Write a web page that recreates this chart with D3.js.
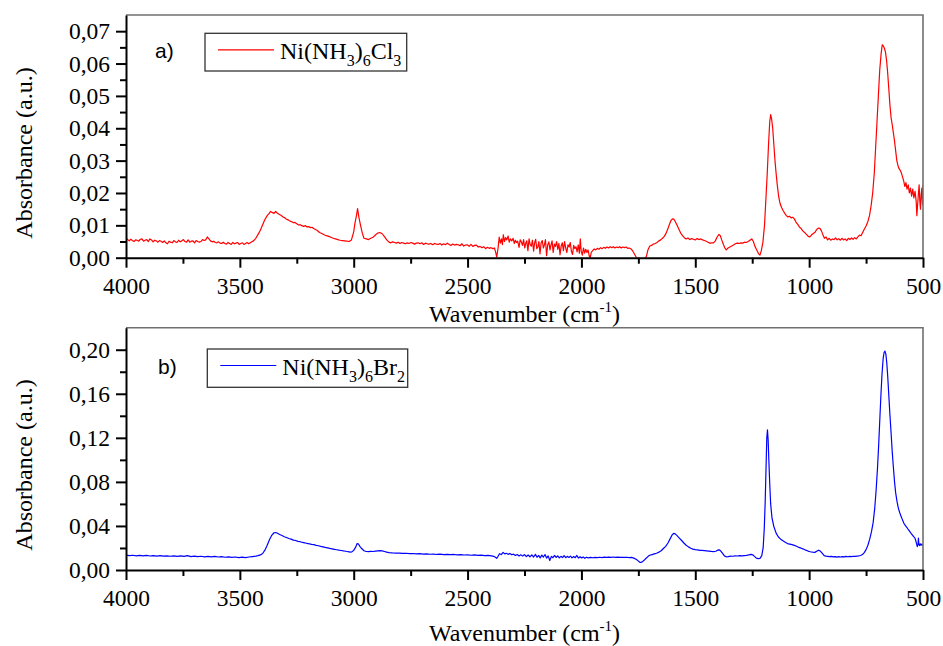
<!DOCTYPE html>
<html>
<head>
<meta charset="utf-8">
<script src="https://cdn.jsdelivr.net/npm/d3@7"></script>
<style>
  html, body { margin: 0; padding: 0; background: #fff; }
  svg { display: block; }
</style>
</head>
<body>
<svg id="chart" width="943" height="646"></svg>
<script>
// ---------------- DATA ----------------
const xMajorTicks = [4000, 3500, 3000, 2500, 2000, 1500, 1000, 500];
const xMinorTicks = [3750, 3250, 2750, 2250, 1750, 1250, 750];
const yMajorTicksA = [0, 0.01, 0.02, 0.03, 0.04, 0.05, 0.06, 0.07];
const yMinorTicksA = [0.005, 0.015, 0.025, 0.035, 0.045, 0.055, 0.065];
const yMajorTicksB = [0, 0.04, 0.08, 0.12, 0.16, 0.20];
const yMinorTicksB = [0.02, 0.06, 0.10, 0.14, 0.18];
const panelLabels = ["a)", "b)"];
const seriesNames = [["Ni(NH", "3", ")", "6", "Cl", "3"], ["Ni(NH", "3", ")", "6", "Br", "2"]];

// Ni(NH3)6Cl3 spectrum: [wavenumber, absorbance]
const spectrumCl = [
[4000,.0061],[3993,.0056],[3986,.0052],[3979,.0057],[3972,.0053],[3965,.0050],[3958,.0055],[3951,.0054],[3944,.0051],[3937,.0057],[3930,.0058],[3923,.0051],[3916,.0054],[3909,.0056],[3902,.0050],[3895,.0058],[3888,.0055],[3881,.0049],[3874,.0054],[3867,.0052],[3860,.0048],[3853,.0053],[3846,.0051],[3839,.0047],[3832,.0052],[3825,.0046],[3818,.0043],[3811,.0051],[3804,.0048],[3797,.0046],[3790,.0053],[3783,.0049],[3776,.0047],[3769,.0054],[3762,.0049],[3755,.0052],[3748,.0056],[3741,.0050],[3734,.0048],[3727,.0055],[3720,.0048],[3713,.0051],[3706,.0052],[3699,.0046],[3692,.0053],[3685,.0050],[3678,.0048],[3671,.0050],[3664,.0056],[3657,.0053],[3650,.0055],[3643,.0064],[3636,.0058],[3629,.0052],[3622,.0049],[3615,.0051],[3608,.0047],[3601,.0046],[3594,.0049],[3587,.0045],[3580,.0044],[3573,.0048],[3566,.0044],[3559,.0042],[3552,.0047],[3545,.0044],[3538,.0041],[3531,.0047],[3524,.0043],[3517,.0045],[3510,.0047],[3503,.0041],[3496,.0044],[3489,.0046],[3482,.0041],[3475,.0044],[3468,.0047],[3461,.0043],[3454,.0046],[3447,.0049],[3440,.0052],[3430,.0060],[3420,.0072],[3410,.0085],[3400,.0102],[3390,.0118],[3380,.0130],[3372,.0136],[3365,.0143],[3358,.0140],[3350,.0137],[3343,.0143],[3336,.0138],[3328,.0134],[3320,.0131],[3310,.0126],[3302,.0123],[3295,.0119],[3288,.0117],[3280,.0113],[3272,.0111],[3265,.0108],[3258,.0109],[3250,.0105],[3242,.0101],[3235,.0102],[3228,.0099],[3220,.0097],[3212,.0099],[3205,.0095],[3198,.0096],[3190,.0093],[3183,.0094],[3176,.0090],[3168,.0087],[3160,.0084],[3150,.0078],[3140,.0075],[3130,.0071],[3120,.0068],[3110,.0066],[3100,.0063],[3090,.0060],[3080,.0058],[3070,.0056],[3060,.0054],[3050,.0053],[3040,.0052],[3030,.0051],[3020,.0050],[3010,.0055],[3000,.0080],[2995,.0105],[2988,.0130],[2983,.0152],[2978,.0128],[2970,.0100],[2962,.0075],[2955,.0060],[2945,.0058],[2935,.0056],[2925,.0060],[2915,.0063],[2905,.0070],[2895,.0076],[2885,.0078],[2875,.0074],[2865,.0065],[2855,.0055],[2845,.0048],[2837,.0046],[2829,.0049],[2821,.0047],[2813,.0045],[2805,.0048],[2797,.0044],[2789,.0047],[2781,.0045],[2773,.0043],[2765,.0046],[2757,.0044],[2749,.0047],[2741,.0045],[2733,.0042],[2725,.0045],[2717,.0046],[2709,.0043],[2701,.0046],[2693,.0041],[2685,.0045],[2677,.0043],[2669,.0042],[2661,.0044],[2653,.0040],[2645,.0044],[2637,.0042],[2629,.0041],[2621,.0044],[2613,.0039],[2605,.0043],[2597,.0040],[2589,.0045],[2581,.0041],[2573,.0038],[2565,.0042],[2557,.0039],[2549,.0041],[2541,.0040],[2533,.0037],[2525,.0043],[2517,.0036],[2509,.0039],[2501,.0040],[2493,.0035],[2485,.0041],[2477,.0035],[2469,.0038],[2461,.0039],[2453,.0033],[2445,.0035],[2437,.0031],[2429,.0034],[2421,.0028],[2413,.0032],[2405,.0029],[2397,.0031],[2389,.0028],[2382,.0030],[2377,.0018],[2372,.0002],[2366,.0030],[2361,.0064],[2356,.0045],[2351,.0058],[2347,.0040],[2343,.0071],[2338,.0050],[2333,.0062],[2328,.0055],[2322,.0067],[2317,.0048],[2312,.0058],[2306,.0052],[2300,.0060],[2295,.0044],[2290,.0054],[2285,.0047],[2280,.0051],[2274,.0032],[2269,.0055],[2264,.0049],[2259,.0038],[2254,.0056],[2249,.0030],[2244,.0046],[2240,.0052],[2235,.0022],[2230,.0058],[2225,.0040],[2220,.0036],[2215,.0054],[2210,.0020],[2206,.0044],[2201,.0057],[2196,.0028],[2191,.0034],[2187,.0050],[2182,.0012],[2177,.0046],[2172,.0053],[2167,.0030],[2162,.0041],[2158,.0056],[2153,.0006],[2148,.0040],[2143,.0049],[2138,.0024],[2134,.0038],[2129,.0052],[2124,.0016],[2119,.0042],[2114,.0035],[2109,.0050],[2104,.0026],[2099,.0044],[2094,.0009],[2089,.0036],[2084,.0046],[2079,.0022],[2074,.0050],[2069,.0030],[2064,.0016],[2059,.0040],[2054,.0033],[2049,.0047],[2044,.0020],[2039,.0010],[2034,.0038],[2029,.0028],[2024,.0034],[2019,.0018],[2014,.0040],[2009,.0014],[2005,.0058],[2001,.0020],[1996,.0008],[1991,.0030],[1986,.0014],[1981,.0026],[1976,.0016],[1971,.0024],[1966,.0006],[1962,-.0002],[1957,.0016],[1951,.0022],[1944,.0027],[1937,.0024],[1930,.0029],[1923,.0026],[1916,.0031],[1909,.0028],[1902,.0032],[1895,.0029],[1888,.0033],[1881,.0030],[1874,.0034],[1867,.0031],[1860,.0034],[1853,.0030],[1846,.0033],[1839,.0031],[1832,.0034],[1825,.0030],[1818,.0033],[1811,.0031],[1804,.0033],[1797,.0029],[1790,.0030],[1782,.0027],[1774,.0020],[1766,.0010],[1760,.0002],[1755,-.0008],[1745,-.0012],[1735,-.0010],[1725,-.0004],[1715,.0003],[1708,.0024],[1700,.0036],[1692,.0038],[1684,.0042],[1676,.0044],[1668,.0047],[1660,.0052],[1652,.0055],[1644,.0060],[1636,.0066],[1628,.0076],[1620,.0090],[1613,.0104],[1606,.0116],[1600,.0120],[1594,.0119],[1588,.0112],[1580,.0100],[1572,.0088],[1564,.0076],[1556,.0068],[1548,.0062],[1540,.0058],[1532,.0061],[1524,.0056],[1516,.0059],[1508,.0057],[1500,.0055],[1492,.0059],[1484,.0056],[1476,.0058],[1468,.0055],[1460,.0053],[1452,.0051],[1444,.0048],[1436,.0045],[1428,.0046],[1420,.0046],[1412,.0052],[1404,.0064],[1396,.0072],[1390,.0068],[1384,.0055],[1376,.0040],[1370,.0030],[1364,.0024],[1356,.0030],[1348,.0033],[1340,.0036],[1332,.0039],[1324,.0043],[1316,.0045],[1308,.0044],[1300,.0046],[1292,.0045],[1284,.0048],[1276,.0047],[1268,.0050],[1260,.0054],[1252,.0058],[1245,.0050],[1238,.0035],[1230,.0024],[1222,.0012],[1216,.0008],[1210,.0022],[1203,.0048],[1196,.0100],[1190,.0180],[1184,.0260],[1178,.0355],[1173,.0420],[1169,.0442],[1165,.0430],[1160,.0400],[1155,.0350],[1150,.0300],[1145,.0260],[1140,.0225],[1134,.0190],[1128,.0168],[1121,.0155],[1114,.0145],[1107,.0137],[1100,.0130],[1093,.0126],[1086,.0128],[1079,.0123],[1072,.0125],[1065,.0120],[1058,.0110],[1050,.0103],[1042,.0094],[1035,.0090],[1028,.0083],[1020,.0078],[1012,.0072],[1004,.0066],[997,.0064],[990,.0070],[982,.0075],[974,.0079],[966,.0088],[958,.0092],[952,.0090],[946,.0083],[940,.0072],[933,.0060],[926,.0064],[919,.0055],[912,.0060],[905,.0054],[898,.0058],[891,.0056],[884,.0061],[877,.0055],[870,.0059],[863,.0054],[856,.0060],[849,.0055],[842,.0058],[835,.0053],[828,.0060],[821,.0056],[814,.0061],[807,.0057],[800,.0062],[793,.0058],[786,.0064],[779,.0070],[772,.0068],[765,.0078],[758,.0088],[750,.0098],[742,.0112],[735,.0130],[728,.0160],[721,.0200],[714,.0260],[708,.0340],[702,.0420],[696,.0500],[690,.0580],[684,.0630],[679,.0658],[675,.0655],[670,.0648],[665,.0636],[660,.0610],[655,.0570],[650,.0520],[645,.0470],[640,.0432],[635,.0410],[630,.0385],[625,.0360],[620,.0330],[615,.0300],[610,.0285],[605,.0275],[600,.0270],[595,.0262],[590,.0250],[585,.0238],[580,.0220],[575,.0232],[570,.0212],[565,.0225],[560,.0200],[555,.0215],[550,.0190],[545,.0212],[540,.0185],[535,.0205],[530,.0175],[527,.0130],[524,.0160],[520,.0200],[517,.0225],[514,.0175],[511,.0150],[508,.0195],[505,.0215],[502,.0165],[500,.0225]
];

// Ni(NH3)6Br2 spectrum: [wavenumber, absorbance]
const spectrumBr = [
[4000,.0136],[3985,.0131],[3970,.0134],[3955,.0129],[3940,.0133],[3925,.0128],[3910,.0132],[3895,.0127],[3880,.0131],[3865,.0126],[3850,.0130],[3835,.0126],[3820,.0129],[3805,.0125],[3790,.0129],[3775,.0124],[3760,.0128],[3745,.0123],[3730,.0131],[3715,.0122],[3700,.0126],[3685,.0121],[3670,.0125],[3655,.0120],[3640,.0124],[3625,.0119],[3610,.0123],[3595,.0118],[3580,.0121],[3565,.0116],[3550,.0120],[3535,.0115],[3520,.0118],[3505,.0112],[3490,.0117],[3475,.0113],[3460,.0118],[3445,.0122],[3430,.0126],[3420,.0130],[3410,.0137],[3400,.0150],[3390,.0180],[3380,.0225],[3370,.0275],[3360,.0315],[3350,.0338],[3342,.0340],[3335,.0333],[3325,.0322],[3315,.0313],[3305,.0302],[3295,.0295],[3285,.0286],[3275,.0280],[3265,.0271],[3255,.0268],[3245,.0260],[3235,.0257],[3225,.0250],[3215,.0247],[3205,.0241],[3195,.0238],[3185,.0233],[3175,.0230],[3165,.0224],[3155,.0220],[3145,.0214],[3135,.0210],[3125,.0205],[3115,.0201],[3105,.0196],[3095,.0192],[3085,.0188],[3075,.0184],[3065,.0180],[3055,.0177],[3045,.0173],[3035,.0170],[3025,.0166],[3015,.0163],[3008,.0165],[3000,.0178],[2992,.0205],[2985,.0240],[2980,.0238],[2973,.0215],[2965,.0195],[2955,.0175],[2945,.0168],[2935,.0167],[2925,.0169],[2915,.0168],[2905,.0171],[2895,.0174],[2885,.0176],[2875,.0173],[2865,.0168],[2855,.0162],[2845,.0158],[2830,.0155],[2815,.0153],[2800,.0154],[2785,.0151],[2770,.0152],[2755,.0149],[2740,.0150],[2725,.0147],[2710,.0149],[2695,.0145],[2680,.0147],[2665,.0143],[2650,.0145],[2635,.0141],[2620,.0144],[2605,.0140],[2590,.0142],[2575,.0139],[2560,.0141],[2545,.0137],[2530,.0140],[2515,.0136],[2500,.0138],[2485,.0134],[2470,.0137],[2455,.0132],[2440,.0135],[2425,.0130],[2410,.0133],[2395,.0128],[2385,.0124],[2378,.0115],[2372,.0106],[2366,.0125],[2360,.0148],[2352,.0140],[2344,.0160],[2337,.0146],[2330,.0152],[2322,.0142],[2314,.0150],[2306,.0138],[2298,.0144],[2290,.0132],[2282,.0140],[2274,.0128],[2266,.0138],[2258,.0126],[2250,.0140],[2242,.0122],[2234,.0136],[2226,.0120],[2218,.0138],[2210,.0118],[2202,.0142],[2195,.0115],[2188,.0133],[2181,.0110],[2174,.0136],[2167,.0118],[2160,.0140],[2153,.0108],[2146,.0128],[2139,.0086],[2132,.0124],[2125,.0112],[2118,.0132],[2111,.0114],[2104,.0128],[2097,.0110],[2090,.0124],[2083,.0113],[2076,.0130],[2069,.0112],[2062,.0124],[2055,.0114],[2048,.0126],[2041,.0110],[2034,.0122],[2027,.0112],[2020,.0132],[2013,.0108],[2006,.0120],[1999,.0110],[1992,.0118],[1985,.0106],[1978,.0116],[1970,.0110],[1960,.0114],[1950,.0111],[1940,.0115],[1930,.0112],[1920,.0116],[1910,.0113],[1900,.0117],[1890,.0114],[1880,.0117],[1870,.0115],[1860,.0118],[1850,.0115],[1840,.0117],[1830,.0114],[1820,.0116],[1810,.0114],[1800,.0116],[1790,.0113],[1780,.0114],[1770,.0108],[1760,.0098],[1752,.0085],[1745,.0072],[1740,.0068],[1733,.0074],[1725,.0088],[1717,.0104],[1708,.0122],[1700,.0134],[1690,.0140],[1680,.0146],[1670,.0152],[1660,.0162],[1650,.0175],[1640,.0195],[1630,.0215],[1620,.0245],[1610,.0285],[1602,.0318],[1595,.0333],[1588,.0328],[1580,.0312],[1570,.0290],[1560,.0268],[1550,.0245],[1540,.0225],[1530,.0210],[1520,.0198],[1510,.0190],[1500,.0185],[1490,.0182],[1480,.0179],[1470,.0178],[1460,.0176],[1450,.0174],[1440,.0172],[1430,.0169],[1420,.0167],[1410,.0170],[1402,.0180],[1395,.0183],[1388,.0172],[1380,.0150],[1372,.0128],[1364,.0120],[1355,.0122],[1345,.0126],[1335,.0125],[1325,.0128],[1315,.0127],[1305,.0130],[1295,.0128],[1285,.0131],[1275,.0133],[1265,.0137],[1255,.0142],[1248,.0138],[1240,.0124],[1232,.0108],[1224,.0104],[1216,.0106],[1208,.0130],[1202,.0200],[1197,.0380],[1193,.0620],[1189,.0950],[1186,.1200],[1183,.1273],[1180,.1180],[1177,.1000],[1173,.0780],[1169,.0600],[1163,.0470],[1155,.0395],[1145,.0335],[1135,.0300],[1125,.0280],[1115,.0265],[1105,.0252],[1095,.0240],[1085,.0235],[1075,.0230],[1065,.0224],[1055,.0215],[1045,.0205],[1035,.0198],[1025,.0190],[1015,.0180],[1005,.0172],[995,.0166],[985,.0162],[975,.0160],[965,.0172],[958,.0180],[950,.0170],[942,.0150],[934,.0130],[926,.0126],[918,.0124],[910,.0121],[902,.0124],[894,.0119],[886,.0122],[878,.0117],[870,.0121],[862,.0118],[854,.0122],[846,.0119],[838,.0123],[830,.0120],[822,.0124],[814,.0121],[806,.0125],[798,.0124],[790,.0126],[782,.0128],[774,.0132],[766,.0140],[758,.0158],[750,.0185],[742,.0225],[734,.0280],[726,.0350],[719,.0430],[712,.0560],[706,.0720],[700,.0920],[695,.1120],[690,.1350],[685,.1580],[680,.1780],[675,.1920],[671,.1975],[667,.1988],[663,.1960],[659,.1880],[655,.1760],[650,.1580],[645,.1400],[640,.1240],[635,.1070],[630,.0930],[625,.0800],[620,.0700],[614,.0620],[608,.0560],[602,.0520],[596,.0485],[590,.0455],[584,.0425],[578,.0405],[572,.0390],[566,.0372],[560,.0355],[554,.0338],[548,.0322],[542,.0305],[536,.0292],[532,.0270],[528,.0235],[525,.0212],[522,.0228],[520,.0290],[518,.0232],[515,.0222],[512,.0238],[509,.0226],[506,.0234],[503,.0225],[500,.0232]
];

// ---------------- DRAW ----------------
const svg = d3.select("#chart");
const SERIF = "'Liberation Serif', 'Times New Roman', serif";
const SANS = "'Liberation Sans', Arial, sans-serif";
const fmtComma = d => d3.format(".2f")(d).replace(".", ",");

const left = 126, right = 923;
const panels = [
  { top: 15, bottom: 257.7, ymax: 0.075, yMajor: yMajorTicksA, yMinor: yMinorTicksA, data: spectrumCl, color: "#ff0000",
    titleY: 153, xTitleBase: 322, label: panelLabels[0], labelPos: [155, 58], legend: { x: 205, y: 33.3, w: 201.7, h: 37.7 }, name: seriesNames[0] },
  { top: 327.7, bottom: 570, ymax: 0.22, yMajor: yMajorTicksB, yMinor: yMinorTicksB, data: spectrumBr, color: "#0000ff",
    titleY: 465, xTitleBase: 641, label: panelLabels[1], labelPos: [158, 374], legend: { x: 207.3, y: 349, w: 200.4, h: 38.3 }, name: seriesNames[1] }
];

const x = d3.scaleLinear().domain([4000, 500]).range([left, right]);

panels.forEach((p, i) => {
  const y = d3.scaleLinear().domain([0, p.ymax]).range([p.bottom, p.top]);
  const g = svg.append("g");

  const clipId = "clip" + i;
  svg.append("clipPath").attr("id", clipId)
    .append("rect").attr("x", left).attr("y", p.top).attr("width", right - left).attr("height", p.bottom - p.top);

  // spectrum
  const line = d3.line().x(d => x(d[0])).y(d => y(d[1]));
  g.append("path").datum(p.data)
    .attr("clip-path", `url(#${clipId})`)
    .attr("fill", "none").attr("stroke", p.color).attr("stroke-width", 1.2)
    .attr("stroke-linejoin", "round")
    .attr("d", line);

  // frame top & right
  g.append("path")
    .attr("d", `M${left},${p.top}H${right}V${p.bottom}`)
    .attr("fill", "none").attr("stroke", "#707070").attr("stroke-width", 1.6);

  // x axis
  const xAxisG = g.append("g").attr("transform", `translate(0,${p.bottom})`);
  xAxisG.append("g").call(d3.axisBottom(x).tickValues(xMinorTicks).tickSize(6).tickSizeOuter(0).tickFormat(""))
    .call(s => s.select(".domain").remove());
  const xMaj = xAxisG.append("g").call(d3.axisBottom(x).tickValues(xMajorTicks).tickSize(10).tickSizeOuter(0).tickFormat(d3.format("d")));
  xMaj.attr("font-family", SERIF).attr("font-size", 23.5);
  xAxisG.selectAll("line").attr("stroke", "#000").attr("stroke-width", 2);
  xMaj.select(".domain").attr("stroke", "#000").attr("stroke-width", 2);
  xMaj.selectAll("text").attr("dy", null).attr("y", 36)
    .style("font-family", SERIF).style("font-size", "23.5px").attr("fill", "#000");

  // y axis
  const yAxisG = g.append("g").attr("transform", `translate(${left},0)`);
  yAxisG.append("g").call(d3.axisLeft(y).tickValues(p.yMinor).tickSize(6).tickSizeOuter(0).tickFormat(""))
    .call(s => s.select(".domain").remove());
  const yMaj = yAxisG.append("g").call(d3.axisLeft(y).tickValues(p.yMajor).tickSize(10).tickSizeOuter(0).tickFormat(fmtComma));
  yMaj.attr("font-family", SERIF).attr("font-size", 23.5);
  yAxisG.selectAll("line").attr("stroke", "#000").attr("stroke-width", 2);
  yMaj.select(".domain").attr("stroke", "#000").attr("stroke-width", 2);
  yMaj.selectAll("text").attr("x", -16)
    .style("font-family", SERIF).style("font-size", "23.5px").attr("fill", "#000");

  // axis titles
  svg.append("text")
    .attr("transform", `translate(32,${p.titleY}) rotate(-90)`)
    .attr("text-anchor", "middle")
    .style("font-family", SERIF).style("font-size", "24px")
    .text("Absorbance (a.u.)");

  const xt = svg.append("text")
    .attr("x", (left + right) / 2).attr("y", p.xTitleBase)
    .attr("text-anchor", "middle")
    .style("font-family", SERIF).style("font-size", "24px");
  xt.append("tspan").text("Wavenumber (cm");
  xt.append("tspan").style("font-size", "15px").attr("dy", -10).text("-1");
  xt.append("tspan").attr("dy", 10).text(")");

  // panel label
  svg.append("text")
    .attr("x", p.labelPos[0]).attr("y", p.labelPos[1])
    .style("font-family", SANS).style("font-size", "21px")
    .text(p.label);

  // legend
  const L = p.legend;
  svg.append("rect").attr("x", L.x).attr("y", L.y).attr("width", L.w).attr("height", L.h)
    .attr("fill", "#fff").attr("stroke", "#333").attr("stroke-width", 1.3);
  const ly = L.y + 16.5;
  svg.append("line").attr("x1", L.x + 13).attr("x2", L.x + 69).attr("y1", ly).attr("y2", ly)
    .attr("stroke", p.color).attr("stroke-width", 1.2);
  const lt = svg.append("text").attr("x", L.x + 75).attr("y", L.y + 26)
    .style("font-family", SERIF).style("font-size", "24px");
  p.name.forEach((s, k) => {
    const isSub = k % 2 === 1;
    lt.append("tspan")
      .style("font-size", isSub ? "16px" : "24px")
      .attr("dy", k === 0 ? 0 : (isSub ? 7 : -7))
      .text(s);
  });
});
</script>
</body>
</html>
